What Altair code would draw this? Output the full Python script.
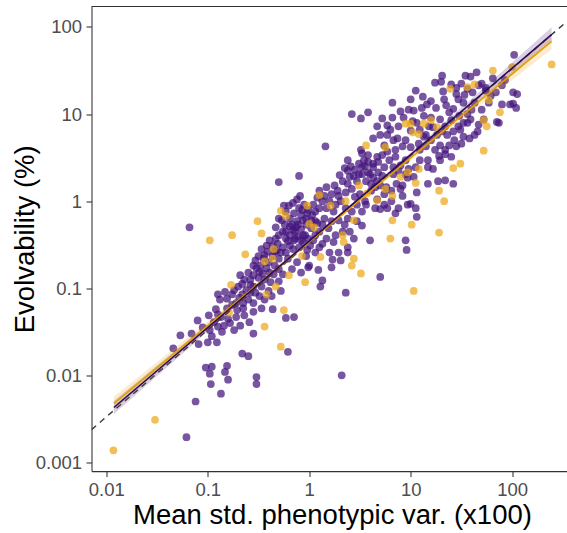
import altair as alt
import pandas as pd

# ---- data (log10 of x = mean std. phenotypic var., log10 of y = evolvability) ----
purple_log10 = [
    (-1.21, -2.71), (-1.12, -2.30), (-1.18, -0.30), (-1.34, -1.69), (-1.27, -1.54), (-1.16, -1.52),
    (-1.10, -1.37), (-1.09, -1.64), (-1.02, -1.91), (-0.98, -1.98), (-0.97, -2.10), (-0.96, -1.90),
    (-0.98, -1.48), (-0.96, -1.55), (-0.99, -1.31),
    (-0.87, -2.21), (-0.81, -1.89), (-0.83, -1.96), (-0.80, -2.05), (-0.52, -2.02), (-0.52, -2.10),
    (-0.66, -1.75), (-0.60, -1.78), (-0.21, -1.73), (-0.91, -1.62), (-0.84, -1.43), (-0.74, -1.48),
    (-0.68, -1.43), (-0.59, -1.39), (-0.55, -1.52), (-0.36, -1.24), (-0.23, -1.34), (-0.15, -1.33),
    (-0.92, -1.24), (-0.81, -1.23), (-0.90, -1.07), (-0.81, -1.12), (-0.76, -1.07), (-0.69, -1.11),
    (-0.65, -1.17), (-0.58, -1.05), (-0.68, -0.85), (-0.66, -0.95), (-0.58, -0.96), (-0.55, -0.85),
    (-0.49, -0.81), (-0.50, -0.63), (-0.44, -0.62), (-0.39, -0.82), (-0.34, -0.74), (-0.30, -0.66),
    (-0.28, -0.59), (-0.36, -0.51), (-0.33, -0.43), (-0.30, -0.39), (-0.26, -0.35), (-0.23, -0.43),
    (-0.19, -0.51), (-0.15, -0.45), (-0.19, -0.29), (-0.14, -0.35), (-0.12, -0.23), (-0.08, -0.16),
    (-0.03, -0.20), (-0.06, -0.39), (-0.01, -0.43), (-0.10, -0.53), (-0.03, -0.63), (-0.21, -0.66),
    (-0.17, -0.78), (-0.26, -0.84), (-0.30, -0.92), (-0.40, -1.03), (-0.28, -1.03), (-0.37, -1.09),
    (-0.30, -0.20), (-0.24, -0.27), (-0.30, 0.22), (-0.10, 0.29), (-0.55, -0.74), (-0.74, -1.02),
    (-0.83, -1.04), (-0.88, -1.13), (-0.72, -1.17), (-0.12, -0.70), (-0.01, -0.76),
    (-0.23, -0.12), (-0.19, -0.20), (-0.15, -0.14), (-0.10, -0.08), (-0.05, -0.04), (-0.01, -0.10),
    (0.03, -0.16), (-0.17, -0.27), (-0.13, -0.30), (-0.08, -0.32), (-0.03, -0.27), (0.02, -0.31),
    (0.06, -0.39), (-0.23, -0.35), (-0.19, -0.39), (-0.14, -0.43), (-0.08, -0.45), (-0.04, -0.39),
    (0.01, -0.51), (0.06, -0.59), (0.10, -0.53), (0.13, -0.49), (0.04, -0.04), (0.10, -0.08),
    (0.15, -0.20),
    (0.38, 0.35), (0.44, 0.29), (0.49, 0.43), (0.54, 0.47), (0.58, 0.33), (0.63, 0.27), (0.68, 0.33),
    (0.74, 0.39), (0.79, 0.47), (0.85, 0.51), (0.56, 0.23), (0.61, 0.20), (0.67, 0.23), (0.52, 0.31),
    (0.47, 0.23), (0.42, 0.14), (0.36, 0.10), (0.72, 0.53), (0.77, 0.57), (0.83, 0.39), (0.88, 0.35),
    (0.58, 0.53), (0.63, 0.39), (0.68, 0.45), (0.51, 0.59),
    (0.16, 0.63), (0.42, 1.00), (0.51, 0.95), (0.58, 1.02), (0.36, -1.05), (0.70, -0.87), (0.32, -2.00),
    (0.11, -0.98), (0.13, -0.91), (0.09, -0.79), (0.22, -0.76), (0.31, -0.68), (0.38, -0.59),
    (0.44, -0.43), (0.60, -0.45), (0.95, -0.45), (0.96, -0.56), (1.00, -0.03), (1.06, -0.18),
    (0.70, -0.09), (0.77, -0.08), (0.85, -0.14), (0.74, 0.08), (0.90, 0.14), (0.92, 0.18), (0.97, 0.27),
    (0.83, 0.31), (0.63, 0.43), (0.67, 0.51), (0.52, 0.39), (0.49, 0.31), (0.38, 0.20), (0.33, 0.23),
    (0.28, 0.12), (0.22, 0.08), (0.17, 0.16), (0.13, 0.00), (0.17, -0.08), (0.24, -0.12), (0.29, -0.22),
    (0.35, -0.27), (0.40, -0.35), (0.47, -0.23), (0.52, -0.12), (0.56, -0.04), (0.61, 0.12), (0.70, 0.18),
    (0.06, -0.12), (0.06, -0.23), (0.10, -0.35), (0.17, -0.43), (0.24, -0.47), (0.29, -0.59),
    (0.20, -0.59), (0.63, 0.72), (0.77, 0.76), (0.83, 0.70), (0.92, 0.63), (0.85, 0.59), (0.74, 0.64),
    (0.70, 0.76), (0.77, 0.87), (0.82, 1.13), (0.88, 0.86), (0.93, 0.96), (1.00, 1.17), (1.03, 1.04),
    (0.52, 0.55), (0.38, 0.47), (0.95, 0.47), (0.82, 0.96),
    (-0.08, -0.82), (0.00, -0.74), (0.23, -0.67), (0.38, -0.53), (0.52, -0.28), (1.03, 0.28), (0.90, 0.41),
    (0.10, 0.12), (0.15, 0.06), (0.20, 0.00), (0.26, -0.04), (0.31, 0.00), (0.36, -0.08), (0.42, -0.12),
    (0.47, -0.04), (0.38, -0.20), (0.33, -0.35), (0.26, -0.39), (0.19, -0.31), (0.13, -0.27), (0.08, 0.04),
    (0.22, -0.23),
    (0.76, 0.16), (0.81, 0.12), (0.86, 0.20), (0.92, 0.06), (0.97, -0.04), (0.88, -0.08), (0.81, 0.00),
    (0.74, -0.04), (0.67, 0.02), (0.65, -0.08),
    (1.05, 1.27), (1.11, 1.07), (1.16, 1.11), (1.20, 1.15), (1.24, 1.36), (1.31, 1.44), (1.32, 1.26),
    (1.33, 1.17), (1.40, 1.34), (1.47, 1.17), (1.54, 1.44), (1.59, 1.43), (1.65, 1.48), (1.70, 1.35),
    (2.02, 1.68), (1.90, 1.11), (1.98, 1.11), (2.01, 1.12), (2.04, 1.07), (2.01, 1.25), (2.05, 1.23),
    (1.87, 0.90), (1.85, 0.91), (1.66, 0.80), (1.72, 0.94), (1.56, 1.00), (1.38, 1.02), (1.29, 0.94),
    (1.20, 0.96), (1.13, 0.98), (1.18, 0.86), (1.34, 0.86), (1.49, 0.82), (1.56, 0.90), (1.52, 0.74),
    (1.43, 0.70), (1.38, 0.64), (1.13, 0.74), (1.08, 0.66), (1.09, 0.47), (1.22, 0.37), (1.29, 0.47),
    (1.40, 0.51), (1.27, 0.23), (1.42, 0.20), (1.17, 0.20), (1.06, 0.10), (1.05, -0.08),
    (1.30, 1.37), (1.34, 0.54), (1.28, 0.52), (1.17, 0.47), (1.05, 0.39), (0.98, 0.37), (1.17, 0.39),
    (1.34, 0.24), (0.95, 0.31), (1.00, 0.81), (1.74, 1.30),
    (1.09, 0.82), (1.15, 0.76), (1.20, 0.70), (1.26, 0.76), (1.31, 0.80), (1.36, 0.76), (1.42, 0.80),
    (1.47, 0.86), (1.52, 0.90), (1.59, 0.94), (1.09, 0.59), (1.15, 0.63), (1.24, 0.59), (1.29, 0.64),
    (1.34, 0.59), (1.45, 0.63), (1.50, 0.66), (1.58, 0.72), (1.63, 0.76), (1.67, 0.88),
    (1.50, 1.35), (1.56, 1.29), (1.61, 1.25), (1.67, 1.33), (1.74, 1.27), (1.79, 1.21), (1.84, 1.25),
    (1.90, 1.33), (1.93, 1.39), (1.81, 1.41), (1.77, 1.13), (1.63, 1.13), (1.52, 1.13), (1.45, 1.23),
    (1.70, 1.05),
    (-0.53, -0.68), (-0.48, -0.74), (-0.45, -0.66), (-0.40, -0.70), (-0.36, -0.63), (-0.32, -0.57),
    (-0.42, -0.51), (-0.47, -0.55), (-0.39, -0.45), (-0.31, -0.49), (-0.26, -0.53), (-0.23, -0.59),
    (-0.30, -0.78), (-0.35, -0.84), (-0.44, -0.90), (-0.50, -0.88), (-0.58, -0.90), (-0.55, -0.98),
    (-0.62, -1.02),
    (-0.76, -1.19), (-0.71, -1.25), (-0.65, -1.23), (-0.60, -1.13), (-0.55, -1.17), (-0.49, -1.09),
    (-0.44, -1.13), (-0.87, -1.33), (-0.80, -1.35), (-0.72, -1.33), (-0.64, -1.31), (-0.55, -1.27),
    (-0.47, -1.23), (-0.90, -1.44), (-0.94, -1.39),
    # denser parts of the cloud
    (-0.27, -0.22), (-0.20, -0.05), (-0.16, -0.02), (-0.12, 0.02), (-0.07, -0.10), (-0.02, -0.14),
    (0.02, -0.22), (-0.06, -0.22), (-0.11, -0.27), (-0.16, -0.33), (-0.21, -0.46), (-0.16, -0.55),
    (-0.11, -0.40), (-0.06, -0.47), (-0.02, -0.56), (0.04, -0.45), (-0.25, -0.05), (-0.09, 0.06),
    (0.08, -0.25), (-0.33, -0.30),
    (0.25, 0.18), (0.30, 0.30), (0.35, 0.38), (0.41, 0.40), (0.45, 0.36), (0.55, 0.40), (0.60, 0.31),
    (0.65, 0.16), (0.45, 0.05), (0.50, 0.08), (0.55, 0.00), (0.29, 0.06), (0.40, 0.28), (0.58, 0.45),
    (0.72, 0.29),
    (0.72, 0.95), (0.80, 0.82), (0.87, 0.72), (0.95, 0.70), (1.00, 0.62), (1.02, 0.92), (0.90, 1.03),
    (0.67, 0.86), (0.98, 1.05), (1.06, 0.90),
    (1.12, 1.20), (1.25, 1.07), (1.35, 1.10), (1.42, 1.06), (1.48, 0.98), (1.45, 1.30), (1.60, 1.05),
    (1.22, 0.85), (1.40, 0.93), (1.53, 1.22),
    (-0.70, -0.98), (-0.64, -0.90), (-0.60, -0.82), (-0.52, -0.77), (-0.46, -0.83), (-0.42, -0.77),
    (-0.38, -0.93), (-0.34, -0.58), (-0.66, -1.07), (-0.53, -1.05), (-0.47, -0.98), (-0.41, -0.58),
    (-1.05, -1.45), (-0.90, -1.30), (-1.00, -1.62), (-0.86, -1.50), (-0.78, -1.40),
]

gold_log10 = [
    (-1.93, -2.86), (-1.52, -2.51), (-0.98, -0.45), (-0.76, -0.39), (-0.63, -0.61), (-0.51, -0.23),
    (-0.47, -0.37), (-0.28, -0.11), (-0.23, -0.17), (-0.77, -0.96), (-0.79, -1.28), (-0.44, -1.44),
    (-0.25, -1.25), (-0.28, -1.67), (-0.04, -0.93), (-0.42, -1.07), (-0.33, -0.98), (-0.20, -0.85),
    (-0.35, -0.55), (-0.44, -0.69), (-0.36, -0.66), (0.00, -0.26), (-0.07, -0.63), (-0.02, -0.05),
    (0.10, 0.07), (0.21, -0.05), (0.33, -0.39), (0.05, -0.30), (0.11, -0.64), (0.34, -0.47),
    (0.44, -0.22), (0.57, 0.09), (0.67, 0.01), (0.75, 0.14), (0.90, 0.28), (0.97, 0.33), (0.95, 0.89),
    (1.02, 0.79), (0.56, 0.64), (0.75, 0.62), (0.51, -0.83), (0.42, -0.74), (0.44, -0.66), (0.80, -0.43),
    (1.01, -0.27), (1.03, -1.03), (0.82, -0.22), (0.82, 0.06), (1.28, -0.36), (1.33, 0.00), (1.28, 0.12),
    (1.05, 0.21), (1.08, 0.37), (1.49, 0.43), (1.42, 0.38), (1.72, 0.58), (1.75, 0.86), (1.72, 0.93),
    (1.88, 1.02), (1.77, 1.16), (1.56, 1.31), (1.63, 1.34), (1.81, 1.50), (1.39, 1.29), (2.00, 1.54),
    (1.26, 0.85), (1.20, 0.93), (1.13, 0.89), (1.00, 0.89), (1.08, 0.77), (2.39, 1.57), (0.36, 0.00),
    (0.49, 0.18),
]

# dashed reference line (y = x / 3), log10 end points
ref_lx = [-2.146, 2.541]
ref_ly = [-2.623, 2.064]

# fitted lines (log10 end points)
fit_lx = [-1.925, 2.389]
purple_fit_ly = [-2.369, 1.913]
gold_fit_ly = [-2.322, 1.835]

# confidence ribbons (log10)
band_lx = [-1.925, -1.2, -0.5, 0.3, 1.0, 1.7, 2.389]
purple_lo = [-2.444, -1.699, -0.980, -0.176, 0.509, 1.179, 1.828]
purple_hi = [-2.294, -1.599, -0.930, -0.146, 0.559, 1.279, 1.998]
gold_lo = [-2.402, -1.678, -0.979, -0.198, 0.467, 1.116, 1.745]
gold_hi = [-2.242, -1.568, -0.919, -0.158, 0.527, 1.226, 1.925]

x_ticks = [0.01, 0.1, 1, 10, 100]
y_ticks = [0.001, 0.01, 0.1, 1, 10, 100]

X_DOMAIN = [10 ** -2.146, 10 ** 2.541]
Y_DOMAIN = [10 ** -3.099, 10 ** 2.235]

PURPLE_PT = "#42137C"
GOLD_PT = "#ECA719"
PURPLE_LINE = "#2C0B57"
GOLD_LINE = "#E69F00"

W, H = 475.5, 464.6

# ---- tables ----
pts = pd.DataFrame(
    [{"x": 10 ** a, "y": 10 ** b, "group": "purple"} for a, b in purple_log10]
    + [{"x": 10 ** a, "y": 10 ** b, "group": "gold"} for a, b in gold_log10]
)
ref = pd.DataFrame({"x": [10 ** v for v in ref_lx], "y": [10 ** v for v in ref_ly]})
pfit = pd.DataFrame({"x": [10 ** v for v in fit_lx], "y": [10 ** v for v in purple_fit_ly]})
gfit = pd.DataFrame({"x": [10 ** v for v in fit_lx], "y": [10 ** v for v in gold_fit_ly]})
pband = pd.DataFrame({"x": [10 ** v for v in band_lx],
                      "lo": [10 ** v for v in purple_lo], "hi": [10 ** v for v in purple_hi]})
gband = pd.DataFrame({"x": [10 ** v for v in band_lx],
                      "lo": [10 ** v for v in gold_lo], "hi": [10 ** v for v in gold_hi]})

FONT = "Liberation Sans"
xscale = alt.Scale(type="log", domain=X_DOMAIN, nice=False)
yscale = alt.Scale(type="log", domain=Y_DOMAIN, nice=False)

xaxis = alt.Axis(
    values=x_ticks, format="~g", grid=False, title="Mean std. phenotypic var. (x100)",
    labelFont=FONT, labelFontSize=18.5, labelColor="#4D4D4D", labelPadding=3.7,
    labelFlush=False, labelOverlap=False, labelBound=False,
    tickSize=5.5, tickColor="#333333", tickWidth=1.07,
    domainColor="#333333", domainWidth=1.07,
    titleFont=FONT, titleFontSize=27.5, titleFontWeight="normal", titleColor="black",
    titleBaseline="alphabetic", titleX=240.5, titleY=52.5,
)
yaxis = alt.Axis(
    values=y_ticks, format="~g", grid=False, title="Evolvability (%)",
    labelFont=FONT, labelFontSize=18.5, labelColor="#4D4D4D", labelPadding=4.5,
    labelFlush=False, labelOverlap=False, labelBound=False,
    tickSize=5.5, tickColor="#333333", tickWidth=1.07,
    domainColor="#333333", domainWidth=1.07,
    titleFont=FONT, titleFontSize=27.5, titleFontWeight="normal", titleColor="black",
    titleBaseline="alphabetic", titleAngle=270, titleX=-58.2, titleY=H / 2,
)


def X(field="x"):
    return alt.X(f"{field}:Q", scale=xscale, axis=xaxis)


def Y(field="y"):
    return alt.Y(f"{field}:Q", scale=yscale, axis=yaxis)


points = alt.Chart(pts).mark_circle(size=60, opacity=0.72).encode(
    x=X(), y=Y(),
    color=alt.Color("group:N", scale=alt.Scale(domain=["purple", "gold"], range=[PURPLE_PT, GOLD_PT]),
                    legend=None),
)

dashed = alt.Chart(ref).mark_line(color="#3A3A3A", strokeWidth=1.4, strokeDash=[6, 5], clip=True).encode(
    x=X(), y=Y()
)

band_p = alt.Chart(pband).mark_area(color=PURPLE_PT, opacity=0.2).encode(x=X(), y=Y("lo"), y2="hi:Q")
band_g = alt.Chart(gband).mark_area(color=GOLD_LINE, opacity=0.2).encode(x=X(), y=Y("lo"), y2="hi:Q")

line_p = alt.Chart(pfit).mark_line(color=PURPLE_LINE, strokeWidth=1.6).encode(x=X(), y=Y())
line_g = alt.Chart(gfit).mark_line(color=GOLD_LINE, strokeWidth=1.6).encode(x=X(), y=Y())

top_border = alt.Chart(pd.DataFrame({"k": [0]})).mark_rule(color="#333333", strokeWidth=1.07).encode(
    x=alt.value(0), x2=alt.value(W), y=alt.value(0)
)

chart = alt.layer(points, dashed, band_g, band_p, line_g, line_p, top_border).properties(
    width=W, height=H,
    autosize=alt.AutoSizeParams(type="none"),
    padding={"left": 91.5, "top": 6.5, "right": 0, "bottom": 62},
    background="white",
).configure_view(stroke=None)

chart.save("out.html", embed_options={"renderer": "svg", "actions": False})
